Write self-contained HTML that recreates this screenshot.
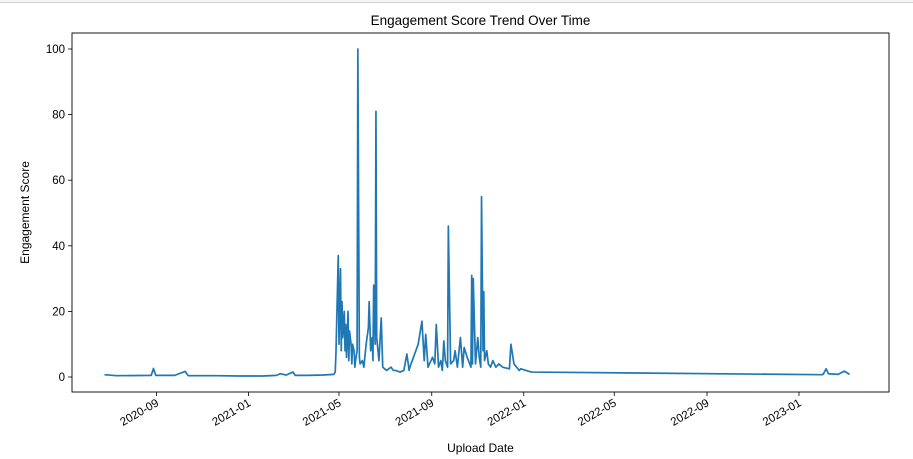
<!DOCTYPE html>
<html><head><meta charset="utf-8">
<style>
html,body{margin:0;padding:0;background:#fff;}
body{width:913px;height:459px;overflow:hidden;position:relative;font-family:"Liberation Sans","DejaVu Sans",sans-serif;}
#topbar{position:absolute;left:0;top:0;width:913px;height:2px;border-bottom:1px solid #d0d0d0;background:#f4f4f4;}
</style></head>
<body>
<div id="topbar"></div>
<svg id="chart" width="913" height="459" style="position:absolute;left:0;top:0">
</svg>
<script>
const dates = ["2020-06-24","2020-07-10","2020-08-25","2020-08-28","2020-08-31","2020-09-25","2020-10-09","2020-10-13","2020-11-20","2020-12-20","2021-01-20","2021-02-07","2021-02-12","2021-02-20","2021-03-01","2021-03-04","2021-03-20","2021-04-10","2021-04-24","2021-04-26","2021-04-27","2021-04-30","2021-05-01","2021-05-03","2021-05-04","2021-05-05","2021-05-06","2021-05-08","2021-05-09","2021-05-10","2021-05-11","2021-05-13","2021-05-14","2021-05-15","2021-05-17","2021-05-18","2021-05-19","2021-05-21","2021-05-22","2021-05-23","2021-05-25","2021-05-26","2021-05-28","2021-05-29","2021-06-01","2021-06-03","2021-06-06","2021-06-09","2021-06-10","2021-06-12","2021-06-14","2021-06-15","2021-06-16","2021-06-18","2021-06-19","2021-06-20","2021-06-23","2021-06-26","2021-06-28","2021-07-03","2021-07-09","2021-07-12","2021-07-15","2021-07-21","2021-07-26","2021-07-30","2021-08-02","2021-08-03","2021-08-14","2021-08-19","2021-08-22","2021-08-24","2021-08-27","2021-09-02","2021-09-05","2021-09-07","2021-09-10","2021-09-13","2021-09-15","2021-09-17","2021-09-19","2021-09-22","2021-09-23","2021-09-26","2021-09-30","2021-10-02","2021-10-05","2021-10-09","2021-10-12","2021-10-14","2021-10-18","2021-10-23","2021-10-24","2021-10-25","2021-10-26","2021-10-29","2021-11-01","2021-11-03","2021-11-05","2021-11-06","2021-11-08","2021-11-09","2021-11-10","2021-11-13","2021-11-15","2021-11-18","2021-11-21","2021-11-25","2021-11-29","2021-12-04","2021-12-13","2021-12-15","2021-12-19","2021-12-26","2021-12-28","2022-01-11","2023-01-31","2023-02-02","2023-02-06","2023-02-09","2023-02-22","2023-03-02","2023-03-09"];
const scores = [0.7,0.4,0.5,2.6,0.5,0.5,1.7,0.4,0.4,0.3,0.3,0.5,1.0,0.6,1.5,0.5,0.5,0.6,0.8,1.5,7.5,37,10,33,8,23,12,20,8,16,6,20,5,14,10,4,10,8,3,5,8,100,6,4,5,3,10,15,23,8,12,5,28,10,81,12,5,18,3,2,3,2,2,1.5,2,7,2,3,10,17,5,13,3,6,4,16,3,5,2,11,5,3,46,4,5,8,3,12,3,9,6,3,31,4,30,4,12,6,3,55,8,26,5,8,4,3,5,3,4,3,2.5,10,4,2,2.5,1.5,0.7,0.8,2.5,1.0,0.8,1.8,0.8];
const yTicks = [0,20,40,60,80,100];
const xTickLabels = ["2020-09","2021-01","2021-05","2021-09","2022-01","2022-05","2022-09","2023-01"];

const NS="http://www.w3.org/2000/svg";
const svg=document.getElementById('chart');
const L=72,R=889,T=33,B=392;
const d0=Date.parse("2020-09-01"),d1=Date.parse("2023-01-01");
const xPx0=156.5,xPx1=799;
function xScale(s){const t=Date.parse(s);return xPx0+(t-d0)/(d1-d0)*(xPx1-xPx0);}
function yScale(v){return 377-(v/100)*(377-49);}
function mk(tag,attrs,txt){const e=document.createElementNS(NS,tag);for(const k in attrs)e.setAttribute(k,attrs[k]);if(txt!==undefined)e.textContent=txt;svg.appendChild(e);return e;}

let e;
e=mk('text',{x:(L+R)/2,y:25,'text-anchor':'middle','font-size':'13.5',fill:'#000'},'Engagement Score Trend Over Time');



const pts=dates.map((d,i)=>xScale(d).toFixed(2)+','+yScale(scores[i]).toFixed(2)).join(' ');
e=mk('polyline',{points:pts,fill:'none',stroke:'#1f77b4','stroke-width':'1.7','stroke-linejoin':'round'});



e=mk('rect',{x:L,y:T,width:R-L,height:B-T,fill:'none',stroke:'#000','stroke-width':'0.9'});



yTicks.forEach(v=>{
  const y=yScale(v);
  e=mk('line',{x1:L-4,x2:L,y1:y,y2:y,stroke:'#000','stroke-width':'0.8'});
  
  
  e=mk('text',{x:L-7,y:y+4,'text-anchor':'end','font-size':'11.5',fill:'#000'},String(v));
  
  
});
xTickLabels.forEach(s=>{
  const x=xScale(s+"-01");
  e=mk('line',{x1:x,x2:x,y1:B,y2:B+4,stroke:'#000','stroke-width':'0.8'});
  
  
  e=mk('text',{x:x+3,y:B+13,'text-anchor':'end','font-size':'11.5',fill:'#000',transform:`rotate(-30 ${x+3} ${B+13})`},s);
  
  
});
e=mk('text',{x:(L+R)/2,y:452,'text-anchor':'middle','font-size':'12',fill:'#000'},'Upload Date');


e=mk('text',{x:29,y:(T+B)/2,'text-anchor':'middle','font-size':'12',fill:'#000',transform:`rotate(-90 29 ${(T+B)/2})`},'Engagement Score');


</script>
</body></html>
